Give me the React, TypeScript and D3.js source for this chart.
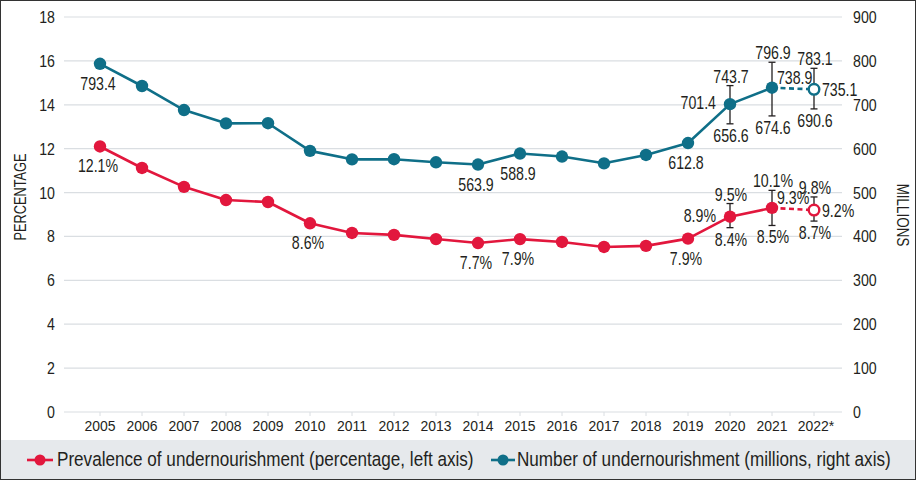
import * as d3 from "d3";

const WIDTH = 916;
const HEIGHT = 481;
const FONT = "'Liberation Sans', Arial, sans-serif";
const RED = "#e2173d";
const TEAL = "#0f6f88";
const GRID = "#dadee2";
const TEXT = "#231f20";

const years = ["2005", "2006", "2007", "2008", "2009", "2010", "2011", "2012", "2013", "2014", "2015", "2016", "2017", "2018", "2019", "2020", "2021", "2022*"];
const prevalence = [12.1, 11.12, 10.26, 9.66, 9.57, 8.6, 8.16, 8.07, 7.88, 7.7, 7.88, 7.75, 7.52, 7.57, 7.9, 8.9, 9.3, 9.2];
const undernourished = [793.4, 742.8, 688, 657.7, 658, 595, 575.7, 576, 569, 563.9, 588.9, 582, 566.6, 585.6, 612.8, 701.4, 738.9, 735.1];
const leftTicks = [0, 2, 4, 6, 8, 10, 12, 14, 16, 18];
const rightTicks = [0, 100, 200, 300, 400, 500, 600, 700, 800, 900];

// uncertainty ranges, 2020-2022
const prevalenceRanges = [
  { year: "2020", lo: 8.4, hi: 9.5 },
  { year: "2021", lo: 8.5, hi: 10.1 },
  { year: "2022*", lo: 8.7, hi: 9.8 },
];
const numberRanges = [
  { year: "2020", lo: 656.6, hi: 743.7 },
  { year: "2021", lo: 674.6, hi: 796.9 },
  { year: "2022*", lo: 690.6, hi: 783.1 },
];

// point labels: year + where to put it
const prevalenceLabels: [string, string][] = [
  ["2005", "below"],
  ["2010", "below"],
  ["2014", "below"],
  ["2015", "below"],
  ["2019", "below"],
  ["2020", "left"],
  ["2021", "right"],
  ["2022*", "right"],
];
const numberLabels: [string, string][] = [
  ["2005", "below"],
  ["2014", "below"],
  ["2015", "below"],
  ["2019", "below"],
  ["2020", "left"],
  ["2021", "right"],
  ["2022*", "right"],
];

const projected = "2022*";

const x = d3.scalePoint<string>().domain(years).range([100, 814]);
const yLeft = d3.scaleLinear().domain([0, 18]).range([412, 17]);
const yRight = d3.scaleLinear().domain([0, 900]).range([412, 17]);

// condensed text: the source uses a narrow grotesque, so squeeze Liberation Sans
function T({ x, y, size, sx = 0.82, anchor = "start", rotate = 0, children }: { x: number; y: number; size: number; sx?: number; anchor?: string; rotate?: number; children: React.ReactNode }) {
  return (
    <text transform={`translate(${x} ${y}) rotate(${rotate}) scale(${sx} 1)`} fontSize={size} fill={TEXT} textAnchor={anchor}>
      {children}
    </text>
  );
}

type SeriesProps = {
  values: number[];
  y: d3.ScaleLinear<number, number>;
  color: string;
  ranges: { year: string; lo: number; hi: number }[];
  labels: [string, string][];
  fmt: (v: number) => string;
};

const LABEL_SIZE = 17.5;
const LABEL_SX = 0.81;

function Series({ values, y, color, ranges, labels, fmt }: SeriesProps) {
  const pts = years.map((year, i) => ({ year, value: values[i] }));
  const line = d3
    .line<{ year: string; value: number }>()
    .x((d) => x(d.year)!)
    .y((d) => y(d.value));
  const solid = pts.filter((d) => d.year !== projected);
  const dashed = pts.slice(-2);

  return (
    <g>
      <path d={line(solid) ?? undefined} fill="none" stroke={color} strokeWidth={2.6} strokeLinejoin="round" />
      <path d={line(dashed) ?? undefined} fill="none" stroke={color} strokeWidth={2.6} strokeDasharray="5 3.5" />
      {ranges.map((r) => {
        const cx = x(r.year)!;
        return (
          <g key={r.year} stroke={TEXT} strokeWidth={1.3}>
            <line x1={cx} x2={cx} y1={y(r.hi)} y2={y(r.lo)} />
            <line x1={cx - 3.5} x2={cx + 3.5} y1={y(r.hi)} y2={y(r.hi)} />
            <line x1={cx - 3.5} x2={cx + 3.5} y1={y(r.lo)} y2={y(r.lo)} />
          </g>
        );
      })}
      {pts.map((d) =>
        d.year === projected ? (
          <circle key={d.year} cx={x(d.year)} cy={y(d.value)} r={5.3} fill="#fff" stroke={color} strokeWidth={2.4} />
        ) : (
          <circle key={d.year} cx={x(d.year)} cy={y(d.value)} r={6.2} fill={color} />
        )
      )}
      {ranges.map((r) => (
        <g key={r.year}>
          <T x={x(r.year)! + 1} y={y(r.hi) - 3} size={LABEL_SIZE} sx={LABEL_SX} anchor="middle">{fmt(r.hi)}</T>
          <T x={x(r.year)! + 1} y={y(r.lo) + 18} size={LABEL_SIZE} sx={LABEL_SX} anchor="middle">{fmt(r.lo)}</T>
        </g>
      ))}
      {labels.map(([year, pos]) => {
        const i = years.indexOf(year);
        const cx = x(year)!;
        const cy = y(values[i]);
        let tx = cx - 2;
        let ty = cy + 26;
        let anchor = "middle";
        if (pos === "left") {
          tx = cx - 14;
          ty = cy + 5;
          anchor = "end";
        } else if (pos === "right") {
          tx = cx + (year === projected ? 8 : 5);
          ty = cy + (year === projected ? 6.5 : -4);
          anchor = "start";
        }
        return (
          <T key={year} x={tx} y={ty} size={LABEL_SIZE} sx={LABEL_SX} anchor={anchor}>
            {fmt(values[i])}
          </T>
        );
      })}
    </g>
  );
}

export default function App() {
  return (
    <svg width={WIDTH} height={HEIGHT} viewBox={`0 0 ${WIDTH} ${HEIGHT}`} style={{ display: "block", fontFamily: FONT }}>
      <style>{`body{margin:0}`}</style>
      <rect x={0} y={0} width={WIDTH} height={HEIGHT} fill="#fff" />
      <rect x={1} y={440} width={WIDTH - 2} height={39} fill="#e6e9ec" />

      {leftTicks.map((t) => (
        <g key={t}>
          <line x1={64} x2={842} y1={yLeft(t)} y2={yLeft(t)} stroke={GRID} strokeWidth={1.2} />
          <T x={55} y={yLeft(t) + 6} anchor="end" size={16.5} sx={0.86}>
            {t}
          </T>
        </g>
      ))}
      {rightTicks.map((t) => (
        <T key={t} x={853} y={yRight(t) + 6} size={16.5} sx={0.86}>
          {t}
        </T>
      ))}
      {years.map((yr) => (
        <g key={yr}>
          <line x1={x(yr)} x2={x(yr)} y1={412} y2={416} stroke={GRID} strokeWidth={1} />
          <T x={x(yr)! + (yr === projected ? 2 : 0)} y={431} anchor="middle" size={15.5} sx={0.9}>
            {yr}
          </T>
        </g>
      ))}

      <T x={26} y={197} rotate={-90} anchor="middle" size={16} sx={0.8}>
        PERCENTAGE
      </T>
      <T x={897} y={215} rotate={90} anchor="middle" size={16} sx={0.84}>
        MILLIONS
      </T>

      <Series values={undernourished} y={yRight} color={TEAL} ranges={numberRanges} labels={numberLabels} fmt={(v) => v.toFixed(1)} />
      <Series values={prevalence} y={yLeft} color={RED} ranges={prevalenceRanges} labels={prevalenceLabels} fmt={(v) => `${v.toFixed(1)}%`} />

      <g>
        <line x1={27} x2={53} y1={460} y2={460} stroke={RED} strokeWidth={2.6} />
        <circle cx={40} cy={460} r={5.5} fill={RED} />
        <T x={57} y={466} size={20.5} sx={0.835}>
          Prevalence of undernourishment (percentage, left axis)
        </T>
        <line x1={491} x2={515} y1={460} y2={460} stroke={TEAL} strokeWidth={2.6} />
        <circle cx={503} cy={460} r={5.5} fill={TEAL} />
        <T x={517} y={466} size={20.5} sx={0.835}>
          Number of undernourishment (millions, right axis)
        </T>
      </g>

      <rect x={0.5} y={0.5} width={WIDTH - 1} height={HEIGHT - 2} fill="none" stroke="#333" strokeWidth={1} />
    </svg>
  );
}
